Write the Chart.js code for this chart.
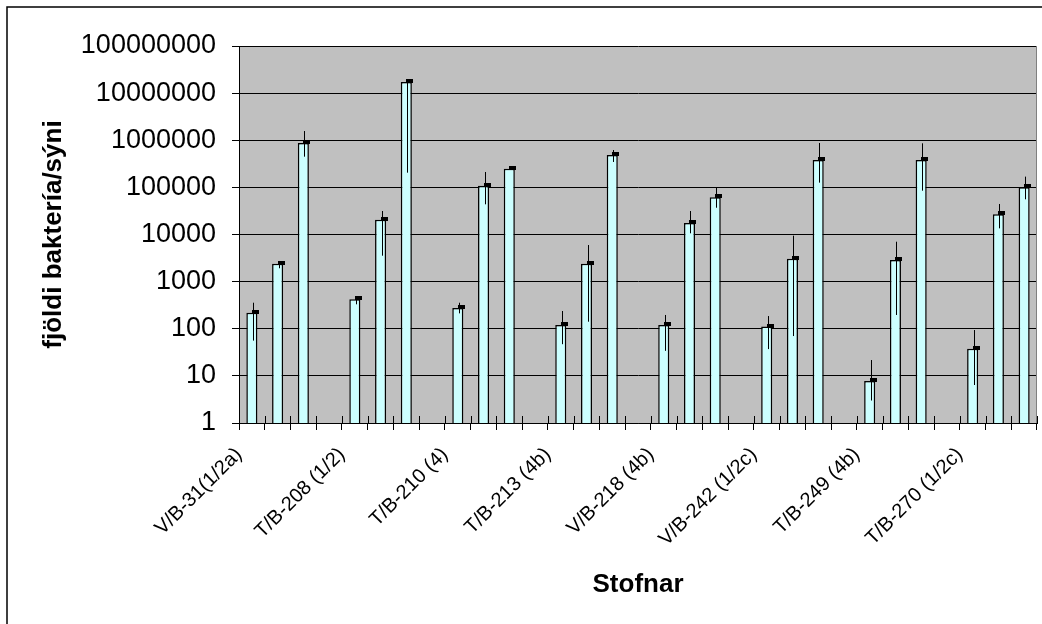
<!DOCTYPE html>
<html>
<head>
<meta charset="utf-8">
<style>
  html, body { margin: 0; padding: 0; background: #fff; }
  #wrap { width: 1042px; height: 624px; position: relative; }
</style>
<script src="https://cdn.jsdelivr.net/npm/chart.js@4/dist/chart.umd.min.js"></script>
</head>
<body>
<div id="wrap"><canvas id="c" width="1042" height="624"></canvas></div>
<script>
/* data: 3 samples per strain, a blank slot between strains */
const strains = ['V/B-31(1/2a)', 'T/B-208 (1/2)', 'T/B-210 (4)', 'T/B-213 (4b)',
                 'V/B-218 (4b)', 'V/B-242 (1/2c)', 'T/B-249 (4b)', 'T/B-270 (1/2c)'];
const counts  = [219, 2400, 875000, null,  422, 20600, 17200000, null,  276, 108600, 249000, null,
                 120, 2400, 486000, null,  120, 17500, 61500, null,  111, 3070, 381000, null,
                 7.8, 2880, 381000, null,  37.8, 26800, 100300];
const errLow  = [56, 1920, 448000, null,  330, 3550, 205000, null,  212, 43700, 240000, null,
                 47, 141, 346000, null,  34, 10600, 37000, null,  37, 70, 126000, null,
                 3, 196, 85000, null,  6.4, 13500, 55800];
const errHigh = [357, 2740, 1570000, null,  479, 31500, 19000000, null,  357, 212000, 262000, null,
                 238, 5980, 621000, null,  196, 31500, 98400, null,  186, 9440, 875000, null,
                 21.7, 7030, 861000, null,  94, 44400, 169000];
const yTicks = [1, 10, 100, 1000, 10000, 100000, 1000000, 10000000, 100000000];

/* one category per slot, name on the first slot of each strain */
const labels = counts.map((_, i) => i % 4 === 0 ? strains[i / 4] : '');

const FONT = "'Liberation Sans', Arial, sans-serif";

const plotBg = {
  id: 'plotBg',
  beforeDraw(chart){
    const {ctx, chartArea: a} = chart;
    ctx.save();
    ctx.fillStyle = '#c0c0c0';
    ctx.fillRect(a.left, a.top, a.right - a.left, a.bottom - a.top);
    ctx.restore();
  }
};

const errorBars = {
  id: 'errorBars',
  afterDatasetsDraw(chart){
    const {ctx} = chart;
    const y = chart.scales.y;
    const meta = chart.getDatasetMeta(0);
    ctx.save();
    meta.data.forEach((bar, i) => {
      if (counts[i] == null) return;
      const x = Math.round(bar.x) + 1.5;
      ctx.strokeStyle = '#000';
      ctx.lineWidth = 1;
      ctx.beginPath();
      ctx.moveTo(x, y.getPixelForValue(errHigh[i]));
      ctx.lineTo(x, y.getPixelForValue(errLow[i]));
      ctx.stroke();
      /* little black dash at the bar top */
      const top = y.getPixelForValue(counts[i]);
      ctx.fillStyle = '#000';
      ctx.fillRect(Math.round(bar.x), Math.round(top) - 3, 7, 4);
    });
    ctx.restore();
  },
  afterDraw(chart){
    const {ctx, chartArea: a} = chart;
    ctx.save();
    /* plot frame on the right */
    ctx.strokeStyle = '#808080';
    ctx.lineWidth = 1;
    ctx.beginPath();
    ctx.moveTo(a.right - 0.5, a.top);
    ctx.lineTo(a.right - 0.5, a.bottom);
    ctx.stroke();
    /* tick marks cross the category axis */
    ctx.strokeStyle = '#000';
    const w = (a.right - a.left) / counts.length;
    for (let i = 1; i <= counts.length; i++){
      const px = Math.round(a.left + i * w) + 0.5;
      ctx.beginPath();
      ctx.moveTo(px, a.bottom - 7);
      ctx.lineTo(px, a.bottom);
      ctx.stroke();
    }
    /* chart border, top and left */
    ctx.lineWidth = 1.5;
    ctx.strokeStyle = '#000';
    ctx.beginPath();
    ctx.moveTo(7, 624);
    ctx.lineTo(7, 7);
    ctx.lineTo(1042, 7);
    ctx.stroke();
    ctx.restore();
  }
};

new Chart(document.getElementById('c'), {
  type: 'bar',
  data: {
    labels,
    datasets: [{
      data: counts,
      backgroundColor: '#ccffff',
      borderColor: '#000',
      borderWidth: 1.5,
      categoryPercentage: 1,
      barPercentage: 0.43
    }]
  },
  options: {
    responsive: false,
    animation: false,
    events: [],
    layout: { padding: { left: 0, top: 46, right: 5, bottom: 0 } },
    plugins: { legend: { display: false }, tooltip: { enabled: false } },
    scales: {
      x: {
        grid: { display: true, drawOnChartArea: false, drawTicks: true, tickLength: 7, color: '#000', offset: true },
        border: { display: true, color: '#000', width: 1 },
        ticks: {
          autoSkip: false, maxRotation: 45, minRotation: 45, padding: 13, labelOffset: -13,
          color: '#000', font: { family: FONT, size: 20 }
        },
        title: {
          display: true, text: 'Stofnar', color: '#000',
          font: { family: FONT, size: 26, weight: 'bold' }, padding: { top: 0, bottom: 24 }
        },
        afterFit(s){ s.height = 624 - 423; s.paddingLeft = 0; s.paddingRight = 0; }
      },
      y: {
        type: 'logarithmic',
        min: 1, max: 100000000,
        afterBuildTicks(s){ s.ticks = yTicks.map(v => ({value: v})); },
        grid: { color: '#000', lineWidth: 1, drawTicks: true, tickLength: 7 },
        border: { display: true, color: '#000', width: 1 },
        ticks: {
          color: '#000', padding: 16, font: { family: FONT, size: 27 },
          callback: v => String(v)
        },
        title: {
          display: true, text: 'fjöldi baktería/sýni', color: '#000',
          font: { family: FONT, size: 26, weight: 'bold' }, padding: { top: 38, bottom: 0 }
        },
        afterFit(s){ s.width = 239; }
      }
    }
  },
  plugins: [plotBg, errorBars]
});
</script>
</body>
</html>
